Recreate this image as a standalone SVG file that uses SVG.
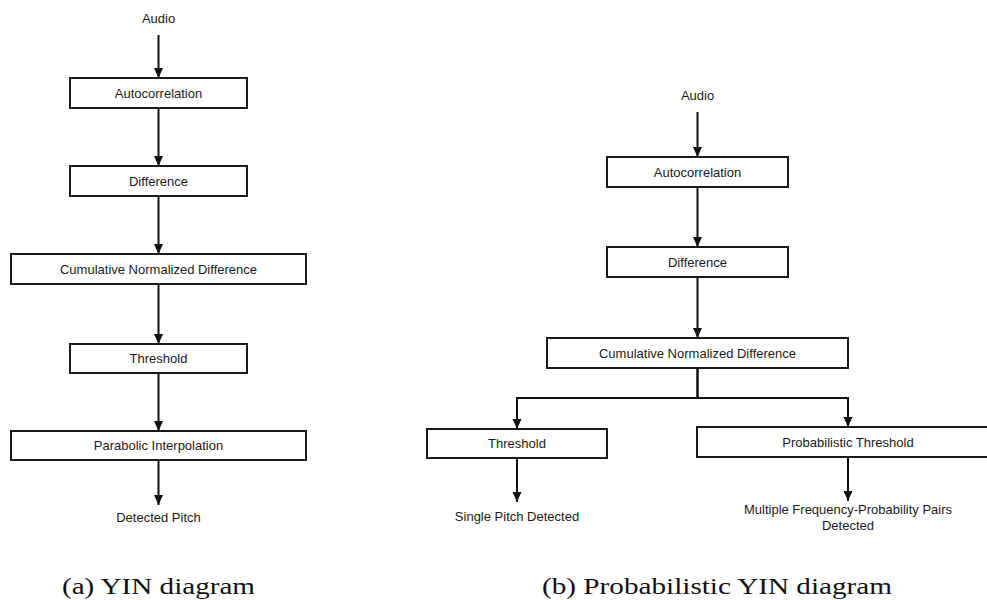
<svg xmlns="http://www.w3.org/2000/svg" width="987" height="600" viewBox="0 0 987 600">
  <style>
    .box { fill: #ffffff; stroke: #1a1a1a; stroke-width: 2; }
    .lbl { font-family: "Liberation Sans", Arial, sans-serif; font-size: 13px; fill: #1a1a1a; text-anchor: middle; }
    .edge { fill: none; stroke: #111111; stroke-width: 2; }
    .arr { marker-end: url(#ah); }
    .cap { font-family: "Liberation Serif", "Times New Roman", serif; font-size: 24px; fill: #111111; }
  </style>
  <defs>
    <marker id="ah" markerUnits="userSpaceOnUse" markerWidth="10" markerHeight="10" refX="10" refY="4.5" orient="auto">
      <path d="M0,0 L10,4.5 L0,9 z" fill="#111111"/>
    </marker>
  </defs>
  <rect width="987" height="600" fill="#ffffff"/>

  <!-- (a) YIN diagram -->
  <g id="a-audio"><text class="lbl" x="158.5" y="22.5">Audio</text></g>
  <g id="a-autocorrelation">
    <rect class="box" x="70" y="78" width="177" height="30"/>
    <text class="lbl" x="158.5" y="97.5">Autocorrelation</text>
  </g>
  <g id="a-difference">
    <rect class="box" x="70" y="166" width="177" height="30"/>
    <text class="lbl" x="158.5" y="185.5">Difference</text>
  </g>
  <g id="a-cnd">
    <rect class="box" x="11" y="254" width="295" height="30"/>
    <text class="lbl" x="158.5" y="273.5">Cumulative Normalized Difference</text>
  </g>
  <g id="a-threshold">
    <rect class="box" x="70" y="344" width="177" height="29"/>
    <text class="lbl" x="158.5" y="363">Threshold</text>
  </g>
  <g id="a-parabolic">
    <rect class="box" x="11" y="431" width="295" height="29"/>
    <text class="lbl" x="158.5" y="450">Parabolic Interpolation</text>
  </g>
  <g id="a-detected"><text class="lbl" x="158.5" y="521.5">Detected Pitch</text></g>

  <!-- (b) Probabilistic YIN diagram -->
  <g id="b-audio"><text class="lbl" x="697.5" y="99.5">Audio</text></g>
  <g id="b-autocorrelation">
    <rect class="box" x="607" y="157" width="181" height="30"/>
    <text class="lbl" x="697.5" y="176.5">Autocorrelation</text>
  </g>
  <g id="b-difference">
    <rect class="box" x="607" y="247" width="181" height="30"/>
    <text class="lbl" x="697.5" y="266.5">Difference</text>
  </g>
  <g id="b-cnd">
    <rect class="box" x="547" y="338" width="301" height="30"/>
    <text class="lbl" x="697.5" y="357.5">Cumulative Normalized Difference</text>
  </g>
  <g id="b-threshold">
    <rect class="box" x="427" y="429" width="180" height="29"/>
    <text class="lbl" x="517" y="448">Threshold</text>
  </g>
  <g id="b-probthreshold">
    <rect class="box" x="697" y="427" width="302" height="30"/>
    <text class="lbl" x="848" y="446.5">Probabilistic Threshold</text>
  </g>
  <g id="b-single"><text class="lbl" x="517" y="520.5">Single Pitch Detected</text></g>
  <g id="b-multiple">
    <text class="lbl" x="848" y="513.5">Multiple Frequency-Probability Pairs</text>
    <text class="lbl" x="848" y="529.5">Detected</text>
  </g>

  <!-- connectors -->
  <g id="connectors">
    <line class="edge arr" x1="158.5" y1="35" x2="158.5" y2="78"/>
    <line class="edge arr" x1="158.5" y1="108" x2="158.5" y2="166"/>
    <line class="edge arr" x1="158.5" y1="196" x2="158.5" y2="254"/>
    <line class="edge arr" x1="158.5" y1="284" x2="158.5" y2="344"/>
    <line class="edge arr" x1="158.5" y1="373" x2="158.5" y2="431"/>
    <line class="edge arr" x1="158.5" y1="460" x2="158.5" y2="505"/>

    <line class="edge arr" x1="697.5" y1="112" x2="697.5" y2="157"/>
    <line class="edge arr" x1="697.5" y1="187" x2="697.5" y2="247"/>
    <line class="edge arr" x1="697.5" y1="277" x2="697.5" y2="338"/>
    <polyline class="edge arr" points="697.5,368 697.5,398 517,398 517,429"/>
    <polyline class="edge arr" points="697.5,368 697.5,398 848,398 848,427"/>
    <line class="edge arr" x1="517" y1="458" x2="517" y2="502"/>
    <line class="edge arr" x1="848" y1="457" x2="848" y2="501"/>
  </g>

  <!-- captions -->
  <text class="cap" x="62" y="594" textLength="193" lengthAdjust="spacingAndGlyphs">(a) YIN diagram</text>
  <text class="cap" x="542" y="594" textLength="350" lengthAdjust="spacingAndGlyphs">(b) Probabilistic YIN diagram</text>
</svg>
